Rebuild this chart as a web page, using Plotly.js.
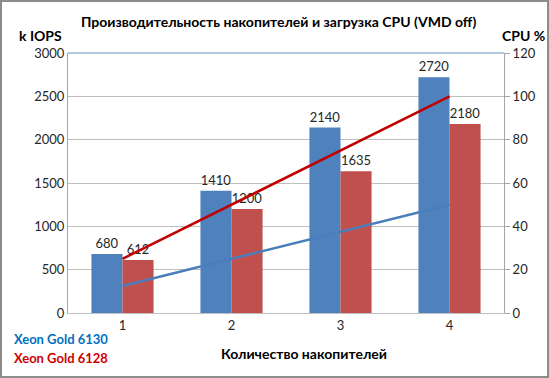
<!DOCTYPE html>
<html>
<head>
<meta charset="utf-8">
<script src="https://cdn.plot.ly/plotly-3.0.1.min.js"></script>
<style>
html,body{margin:0;padding:0;background:#fff;}
#wrap{position:relative;width:549px;height:378px;}
#chart{width:549px;height:378px;}
#frame{position:absolute;left:0;top:0;width:549px;height:378px;box-sizing:border-box;border:2px solid #8c8c8c;pointer-events:none;}
</style>
</head>
<body>
<div id="wrap"><div id="chart"></div><div id="frame"></div></div>
<script>
const categories = ["1", "2", "3", "4"];
const iops6130 = [680, 1410, 2140, 2720];
const iops6128 = [612, 1200, 1635, 2180];
const cpu6130 = [12.5, 25, 37.5, 50];
const cpu6128 = [25, 50, 75, 100];
const leftTicks = [0, 500, 1000, 1500, 2000, 2500, 3000];
const rightTicks = [0, 20, 40, 60, 80, 100, 120];

const FONT = "Lato, Carlito, 'Noto Sans', sans-serif";
const TXT = "#262626";

const traces = [
  {type:"bar", x:categories, y:iops6130, name:"Xeon Gold 6130 IOPS",
   marker:{color:"#4F81BD"}, text:iops6130.map(String), textposition:"outside",
   cliponaxis:false, textfont:{family:FONT, size:13, color:TXT}},
  {type:"bar", x:categories, y:iops6128, name:"Xeon Gold 6128 IOPS",
   marker:{color:"#C0504D"}, text:iops6128.map(String), textposition:"outside",
   cliponaxis:false, textfont:{family:FONT, size:13, color:TXT}},
  {type:"scatter", mode:"lines", x:categories, y:cpu6130, yaxis:"y2",
   name:"Xeon Gold 6130 CPU", line:{color:"#4A7EBB", width:2.5}},
  {type:"scatter", mode:"lines", x:categories, y:cpu6128, yaxis:"y2",
   name:"Xeon Gold 6128 CPU", line:{color:"#C00000", width:2.5}}
];

const layout = {
  width:549, height:378,
  margin:{l:68, r:45, t:53, b:65},
  paper_bgcolor:"#fff", plot_bgcolor:"#fff",
  showlegend:false,
  barmode:"group", bargap:0.43, bargroupgap:0,
  font:{family:FONT, size:13, color:TXT},
  xaxis:{type:"category", showgrid:false, showline:true, linecolor:"#BFBFBF",
         ticks:"", tickfont:{family:FONT, size:13, color:TXT}, zeroline:false},
  yaxis:{range:[0,3000], tickvals:leftTicks, ticktext:leftTicks.map(String),
         showgrid:true, gridcolor:"#BFBFBF", gridwidth:1, showline:true, linecolor:"#A6A6A6",
         zeroline:false, ticks:"", tickfont:{family:FONT, size:13, color:TXT}},
  yaxis2:{range:[0,120], tickvals:rightTicks, ticktext:rightTicks.map(String),
          overlaying:"y", side:"right", showgrid:false, showline:true, linecolor:"#A6A6A6",
          ticks:"outside", ticklen:5, tickcolor:"#A6A6A6", zeroline:false,
          tickfont:{family:FONT, size:13, color:TXT}},
  shapes:[{type:"line", xref:"paper", yref:"paper", x0:0, x1:1, y0:1, y1:1,
           line:{color:"#95B3D7", width:1.5}, layer:"below"}],
  annotations:[
    {text:"<b>Производительность накопителей и загрузка CPU (VMD off)</b>", xref:"paper", yref:"paper",
     x:(278-68)/436, y:1+(313-22)/260-1, yanchor:"middle", xanchor:"center", showarrow:false,
     font:{family:FONT, size:14, color:"#000"}},
    {text:"<b>k IOPS</b>", xref:"paper", yref:"paper", x:(40-68)/436, y:(313-35)/260,
     xanchor:"center", yanchor:"middle", showarrow:false, font:{family:FONT, size:14, color:"#000"}},
    {text:"<b>CPU %</b>", xref:"paper", yref:"paper", x:(523-68)/436, y:(313-35)/260,
     xanchor:"center", yanchor:"middle", showarrow:false, font:{family:FONT, size:14, color:"#000"}},
    {text:"<b>Количество накопителей</b>", xref:"paper", yref:"paper", x:(304-68)/436, y:(313-354)/260,
     xanchor:"center", yanchor:"middle", showarrow:false, font:{family:FONT, size:14, color:"#000"}},
    {text:"<b>Xeon Gold 6130</b>", xref:"paper", yref:"paper", x:(12-68)/436, y:(313-339)/260,
     xanchor:"left", yanchor:"middle", showarrow:false, font:{family:FONT, size:13, color:"#0070C0"}},
    {text:"<b>Xeon Gold 6128</b>", xref:"paper", yref:"paper", x:(12-68)/436, y:(313-358)/260,
     xanchor:"left", yanchor:"middle", showarrow:false, font:{family:FONT, size:13, color:"#D00000"}}
  ]
};

Plotly.newPlot("chart", traces, layout, {displayModeBar:false, staticPlot:true});
</script>
</body>
</html>
